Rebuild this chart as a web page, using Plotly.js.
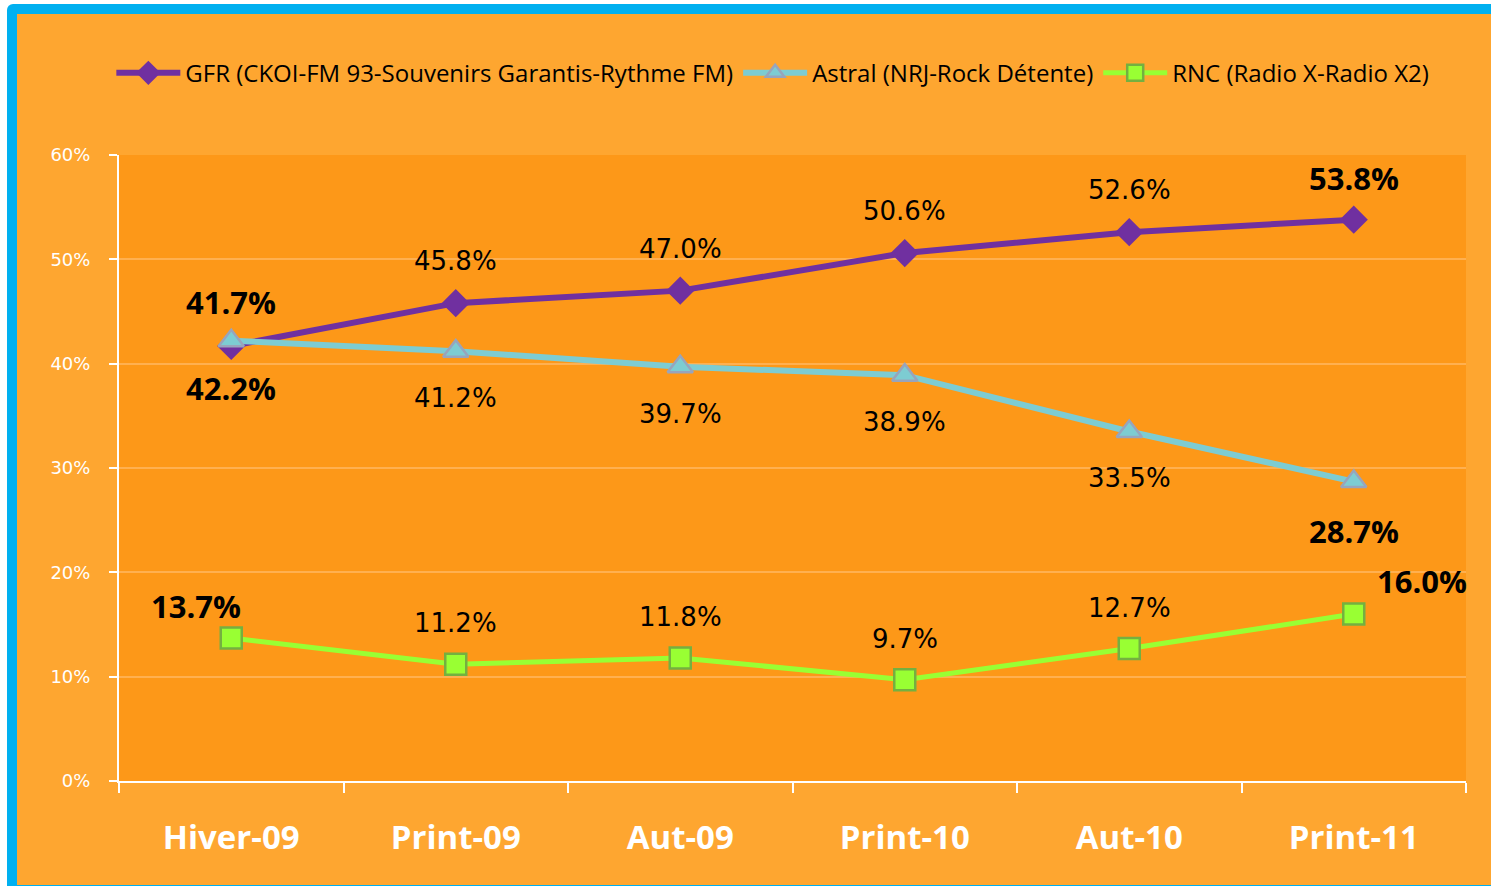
<!DOCTYPE html>
<html>
<head>
<meta charset="utf-8">
<script src="https://cdn.plot.ly/plotly-3.0.1.min.js"></script>
<style>
  html, body { margin:0; padding:0; background:#ffffff; width:1491px; height:886px; overflow:hidden; }
  #frame { position:absolute; left:7px; top:4px; width:1484px; height:882px; background:#00B0F0; border-top-left-radius:6px; }
  #chart { position:absolute; left:10px; top:10px; width:1474px; height:871px; }
</style>
</head>
<body>
<div id="frame"><div id="chart"></div></div>
<script>
// ---- data ----
const categories = ['Hiver-09', 'Print-09', 'Aut-09', 'Print-10', 'Aut-10', 'Print-11'];
const seriesNames = [
  'GFR (CKOI-FM 93-Souvenirs Garantis-Rythme FM)',
  'Astral (NRJ-Rock Détente)',
  'RNC (Radio X-Radio X2)'
];
const gfr    = [41.7, 45.8, 47.0, 50.6, 52.6, 53.8];
const astral = [42.2, 41.2, 39.7, 38.9, 33.5, 28.7];
const rnc    = [13.7, 11.2, 11.8, 9.7, 12.7, 16.0];
const yTicks = [0, 10, 20, 30, 40, 50, 60];

// ---- styles ----
const styles = [
  { line:'#7030A0', width:6, symbol:'diamond', size:19, fill:'#7030A0', outline:'#7030A0', labelShift:42 },
  { line:'#7DCCD2', width:6, symbol:'triangle-up', size:22, fill:'#7DCCD2', outline:'#98A4BC', labelShift:-47 },
  { line:'#99FF33', width:5, symbol:'square', size:21, fill:'#99FF33', outline:'#74B040', labelShift:41 }
];
const allSeries = [gfr, astral, rnc];
// special label offsets (series index, point index) -> [xshift, yshift]
const specialShift = { '2-0':[-35, 32], '2-5':[68, 33], '0-0':[0,44], '1-5':[0,-49] };

const traces = allSeries.map((vals, s) => ({
  type:'scatter', mode:'lines+markers', name: seriesNames[s],
  x: categories, y: vals,
  line:{ color: styles[s].line, width: styles[s].width },
  marker:{ symbol: styles[s].symbol, size: styles[s].size, color: styles[s].fill,
           line:{ color: styles[s].outline, width: 2.5 } },
  cliponaxis:false
}));

const annotations = [];
allSeries.forEach((vals, s) => {
  vals.forEach((v, i) => {
    const edge = (i === 0 || i === vals.length - 1);
    const sp = specialShift[s + '-' + i];
    annotations.push({
      x: categories[i], y: v, xref:'x', yref:'y', showarrow:false,
      text: v.toFixed(1) + '%',
      xshift: sp ? sp[0] : 0,
      yshift: sp ? sp[1] : styles[s].labelShift,
      font: edge
        ? { family:'Open Sans, sans-serif', size:31, color:'#000000', weight:700 }
        : { family:'DejaVu Sans, sans-serif', size:26, color:'#000000', weight:400 }
    });
  });
});

const layout = {
  width:1474, height:871,
  paper_bgcolor:'#FEA630', plot_bgcolor:'#FD9818',
  margin:{ l:102, r:25, t:141, b:104 },
  font:{ family:'Open Sans, sans-serif', color:'#000' },
  showlegend:true,
  legend:{ orientation:'h', x:0.064, xref:'container', xanchor:'left',
           y:0.932, yref:'container', yanchor:'middle', itemwidth:64,
           font:{ size:24, color:'#000' }, bgcolor:'rgba(0,0,0,0)' },
  xaxis:{ type:'category', range:[-0.5, 5.5], tickson:'boundaries', ticks:'outside', ticklen:10,
          tickwidth:2, tickcolor:'#FFFFFF', showline:true, linecolor:'#FFFFFF', linewidth:2,
          showgrid:false, zeroline:false, ticklabelstandoff:26,
          tickfont:{ family:'Open Sans, sans-serif', size:33, color:'#FFFFFF', weight:700 } },
  yaxis:{ range:[0, 60], tickvals:yTicks, ticktext: yTicks.map(t => t + '%'),
          ticks:'outside', ticklen:8, tickwidth:2, tickcolor:'#FFFFFF',
          showline:true, linecolor:'#FFFFFF', linewidth:2, ticklabelstandoff:15,
          showgrid:true, gridcolor:'#FFB050', gridwidth:2, zeroline:false,
          tickfont:{ family:'DejaVu Sans, sans-serif', size:18, color:'#FFFFFF' } },
  annotations: annotations
};

Plotly.newPlot('chart', traces, layout, { displayModeBar:false, staticPlot:true });
</script>
</body>
</html>
